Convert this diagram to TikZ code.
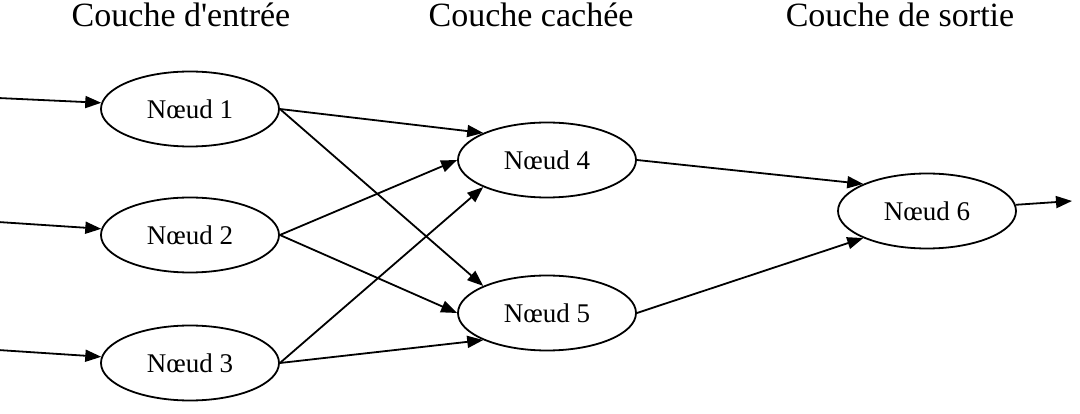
\documentclass[tikz,border=0pt]{standalone}
\usepackage{fontspec}
\setmainfont{Liberation Serif}
\usetikzlibrary{arrows.meta,shapes.geometric}
\tikzset{
  neuron/.style={ellipse,draw,line width=1.8pt,minimum width=178pt,minimum height=75pt,inner sep=0pt,font=\fontsize{27}{30}\selectfont},
  layertitle/.style={anchor=base,font=\fontsize{34}{38}\selectfont},
  conn/.style={line width=1.8pt,-{Triangle[length=16pt,width=12pt]}}
}
\begin{document}
\begin{tikzpicture}[x=1pt,y=-1pt]
\useasboundingbox (0,0) rectangle (1080,414);
\node[layertitle] (t1) at (181,27) {Couche d\textquotesingle entrée};
\node[layertitle] (t2) at (531,27) {Couche cachée};
\node[layertitle] (t3) at (900,27) {Couche de sortie};
\node[neuron] (n1) at (190,109) {Nœud 1};
\node[neuron] (n2) at (190,235) {Nœud 2};
\node[neuron] (n3) at (190,363) {Nœud 3};
\node[neuron] (n4) at (547,160) {Nœud 4};
\node[neuron] (n5) at (547,313) {Nœud 5};
\node[neuron] (n6) at (927,211) {Nœud 6};
\coordinate (i1) at (-2,98);
\coordinate (i2) at (-2,222);
\coordinate (i3) at (-2,350);
\coordinate (o6) at (1072,201);
\draw[conn] (i1) -- (n1.176);
\draw[conn] (i2) -- (n2.176);
\draw[conn] (i3) -- (n3.176);
\draw[conn] (n1.east) -- (n4.157);
\draw[conn] (n1.east) -- (n5.157);
\draw[conn] (n2.east) -- (n4.west);
\draw[conn] (n2.east) -- (n5.west);
\draw[conn] (n3.east) -- (n4.203);
\draw[conn] (n3.east) -- (n5.203);
\draw[conn] (n4.east) -- (n6.157);
\draw[conn] (n5.east) -- (n6.203);
\draw[conn] (n6.4) -- (o6);
\end{tikzpicture}
\end{document}
